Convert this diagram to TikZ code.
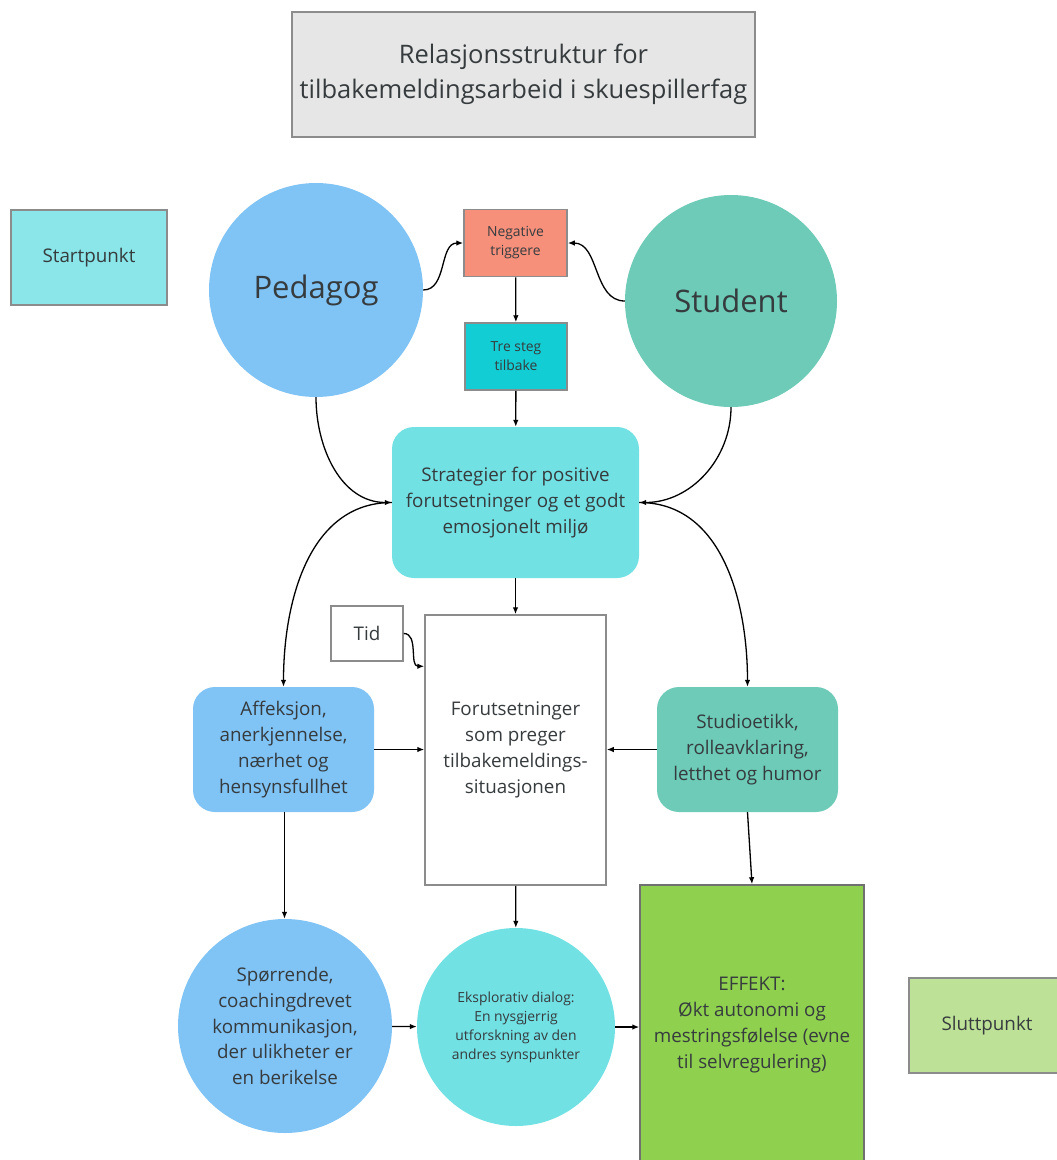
\documentclass[tikz,border=0pt]{standalone}
\usepackage{fontspec}
\setmainfont{Open Sans}
\usetikzlibrary{arrows.meta}
\definecolor{txt}{HTML}{363B3E}
\definecolor{bord}{HTML}{8C8C8C}
\definecolor{titlegray}{HTML}{E6E6E6}
\definecolor{startc}{HTML}{8AE6E8}
\definecolor{pedc}{HTML}{80C3F5}
\definecolor{stuc}{HTML}{6DCBB8}
\definecolor{negc}{HTML}{F6907B}
\definecolor{trec}{HTML}{12CED4}
\definecolor{stratc}{HTML}{72E1E4}
\definecolor{effc}{HTML}{8FD14F}
\definecolor{sluttc}{HTML}{BDE297}
\tikzset{
  box/.style={draw=bord, line width=1.5pt, inner sep=0pt, align=center, text=txt},
  blob/.style={inner sep=0pt, align=center, text=txt},
  round22/.style={blob, rounded corners=22pt},
  circ/.style={blob, circle},
  med/.style={font=\fontsize{18.8}{25.8}\selectfont},
  small/.style={font=\fontsize{13.9}{19}\selectfont},
  big/.style={font=\fontsize{31}{36}\selectfont},
  conn/.style={-{Latex[length=7pt,width=5.5pt]}, line width=1.3pt, black}
}
\begin{document}
\begin{tikzpicture}[x=1pt,y=-1pt]
\useasboundingbox (0,0) rectangle (1057,1160);
\clip (0,0) rectangle (1057,1160);
\fill[white] (0,0) rectangle (1057,1160);

\node[box, fill=titlegray, minimum width=463, minimum height=125,
      font=\fontsize{25.5}{35}\selectfont] (title) at (523.5,74.5)
  {Relasjonsstruktur for\\tilbakemeldingsarbeid i skuespillerfag};

\node[box, fill=startc, minimum width=156, minimum height=95, med] (start) at (89,257.5) {Startpunkt};

\node[circ, fill=pedc, minimum size=214, big] (ped) at (316,290) {Pedagog};
\node[circ, fill=stuc, minimum size=212, big] (stu) at (731,301) {Student};

\node[box, fill=negc, minimum width=103, minimum height=67, small] (neg) at (515.5,243) {Negative\\triggere};
\node[box, fill=trec, minimum width=102, minimum height=67, small] (tre) at (516,356.5) {Tre steg\\tilbake};

\node[round22, fill=stratc, minimum width=247, minimum height=151, med] (strat) at (515.5,502.5)
  {Strategier for positive\\forutsetninger og et godt\\emosjonelt miljø};

\node[box, fill=white, minimum width=72, minimum height=55, med] (tid) at (367,633.5) {Tid};

\node[box, fill=white, minimum width=181, minimum height=270, med] (forut) at (515.5,750)
  {Forutsetninger\\som preger\\tilbakemeldings-\\situasjonen};

\node[round22, fill=pedc, minimum width=181, minimum height=125, med] (aff) at (283.5,749.5)
  {Affeksjon,\\anerkjennelse,\\nærhet og\\hensynsfullhet};

\node[round22, fill=stuc, minimum width=181, minimum height=125, med] (stud) at (747.5,749.5)
  {Studioetikk,\\rolleavklaring,\\letthet og humor};

\node[circ, fill=pedc, minimum size=214, med] (spor) at (285,1026)
  {Spørrende,\\coachingdrevet\\kommunikasjon,\\der ulikheter er\\en berikelse};

\node[circ, fill=stratc, minimum size=198, small] (eks) at (516,1027)
  {Eksplorativ dialog:\\En nysgjerrig\\utforskning av den\\andres synspunkter};

\node[box, fill=effc, draw=bord!80!black, minimum width=224, minimum height=280, med] (eff) at (752,1025)
  {EFFEKT:\\Økt autonomi og\\mestringsfølelse (evne\\til selvregulering)};

\node[box, fill=sluttc, minimum width=156, minimum height=95, med] (slutt) at (987,1025.5) {Sluttpunkt};

% connectors
\draw[conn] (ped.east) to[out=0,in=180] (neg.west);
\draw[conn] (stu.west) to[out=180,in=0] (neg.east);
\draw[conn] (neg) -- (tre);
\draw[conn] (tre) -- (strat);
\draw[conn] (ped.south) to[out=-90,in=180] (strat.west);
\draw[conn] (stu.south) to[out=-90,in=0] (strat.east);
\draw[conn] (strat.west) to[out=180,in=90] (aff.north);
\draw[conn] (strat.east) to[out=0,in=90] (stud.north);
\draw[conn] (strat) -- (forut);
\draw[conn] (tid.east) to[out=0,in=180] ([yshift=-52pt]forut.north west);
\draw[conn] (aff.east) -- (aff.east -| forut.west);
\draw[conn] (stud.west) -- (stud.west -| forut.east);
\draw[conn] ([xshift=1pt]aff.south) -- ([xshift=1pt]aff.south |- spor.north);
\draw[conn] (forut) -- (eks);
\draw[conn] (spor) -- (eks);
\draw[conn] (eks.east) -- (eks.east -| eff.west);
\draw[conn] (stud.south) -- (eff.north);
\end{tikzpicture}
\end{document}
